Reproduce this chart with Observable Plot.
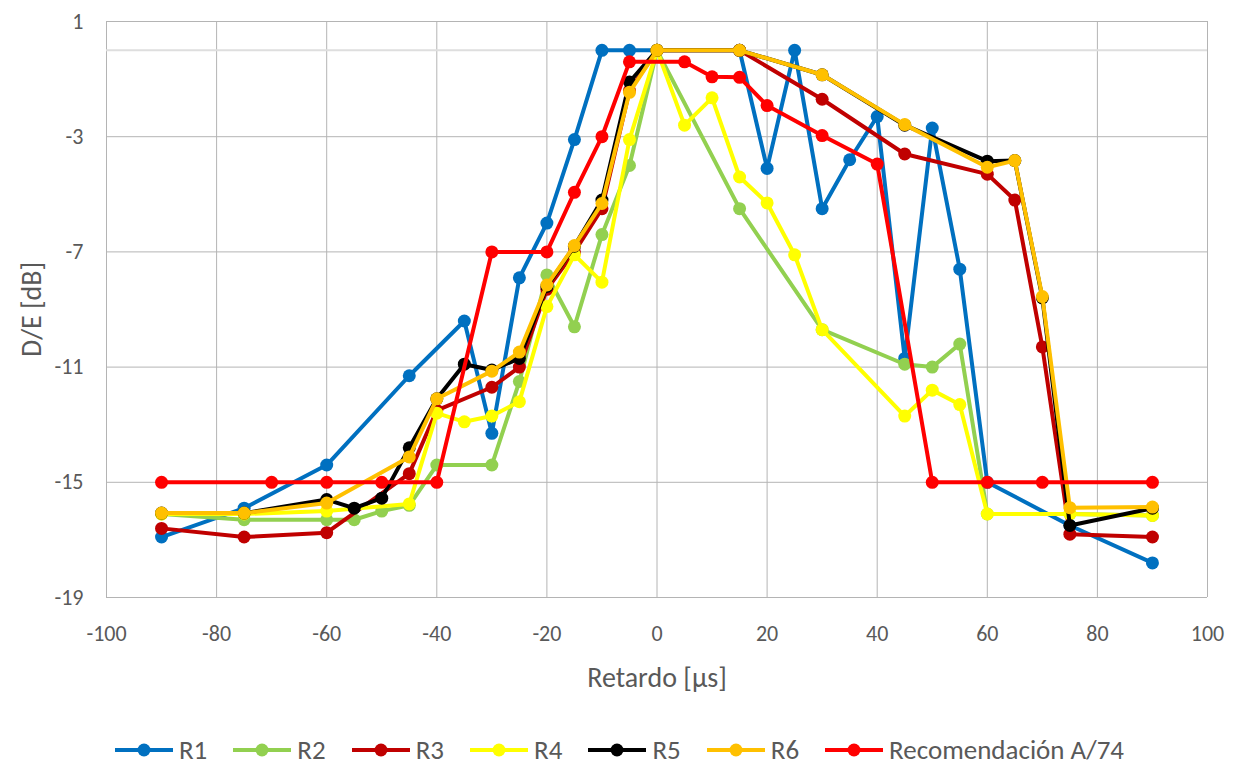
<!DOCTYPE html>
<html>
<head>
<meta charset="utf-8">
<script src="https://cdn.jsdelivr.net/npm/d3@7"></script>
<script src="https://cdn.jsdelivr.net/npm/@observablehq/plot@0.6"></script>
<style>
  body { margin: 0; background: #fff; font-family: Carlito, "Liberation Sans", sans-serif; }
  #legend { display: flex; justify-content: center; align-items: center; margin-top: 36px; color: #595959; font-size: 27px; line-height: 28px; }
  .item { display: flex; align-items: center; margin: 0 13px; }
  .item svg { margin-right: 6px; }
</style>
</head>
<body>
<div id="chart"></div>
<div id="legend"></div>
<script>
// Series names and colours
const seriesNames = ["R1", "R2", "R3", "R4", "R5", "R6", "Recomendación A/74"];
const seriesColors = ["#0070C0", "#92D050", "#C00000", "#FFFF00", "#000000", "#FFC000", "#FF0000"];

// Axis ticks and titles
const xTicks = [-100, -80, -60, -40, -20, 0, 20, 40, 60, 80, 100];
const yTicks = [-19, -15, -11, -7, -3, 1];
const xTitle = "Retardo [µs]";
const yTitle = "D/E [dB]";

// Delay [µs] and D/E [dB] per series
const r1Delay = [-90, -75, -60, -45, -35, -30, -25, -20, -15, -10, -5, 0, 15, 20, 25, 30, 35, 40, 45, 50, 55, 60, 75, 90];
const r1Level = [-16.9, -15.9, -14.4, -11.3, -9.4, -13.3, -7.9, -6.0, -3.1, 0, 0, 0, 0, -4.1, 0, -5.5, -3.8, -2.3, -10.7, -2.7, -7.6, -15, -16.5, -17.8];

const r2Delay = [-90, -75, -60, -55, -50, -45, -40, -30, -25, -20, -15, -10, -5, 0, 15, 30, 45, 50, 55, 60, 75, 90];
const r2Level = [-16.1, -16.3, -16.3, -16.3, -16.0, -15.8, -14.4, -14.4, -11.5, -7.8, -9.6, -6.4, -4.0, 0, -5.5, -9.7, -10.9, -11.0, -10.2, -16.1, -16.1, -16.15];

const r3Delay = [-90, -75, -60, -45, -40, -30, -25, -20, -15, -10, -5, 0, 15, 30, 45, 60, 65, 70, 75, 90];
const r3Level = [-16.6, -16.9, -16.75, -14.7, -12.5, -11.7, -11.0, -8.3, -7.0, -5.5, -1.4, 0, 0, -1.7, -3.6, -4.3, -5.2, -10.3, -16.8, -16.9];

const r4Delay = [-90, -75, -60, -45, -40, -35, -30, -25, -20, -15, -10, -5, 0, 5, 10, 15, 20, 25, 30, 45, 50, 55, 60, 75, 90];
const r4Level = [-16.1, -16.1, -16.0, -15.75, -12.6, -12.9, -12.7, -12.2, -8.9, -7.1, -8.05, -3.1, 0, -2.6, -1.65, -4.4, -5.3, -7.1, -9.7, -12.7, -11.8, -12.3, -16.1, -16.1, -16.15];

const r5Delay = [-90, -75, -60, -55, -50, -45, -40, -35, -30, -25, -20, -15, -10, -5, 0, 15, 30, 45, 60, 65, 70, 75, 90];
const r5Level = [-16.07, -16.07, -15.6, -15.9, -15.55, -13.8, -12.1, -10.9, -11.1, -10.7, -8.2, -6.8, -5.2, -1.1, 0, 0, -0.85, -2.6, -3.85, -3.83, -8.6, -16.5, -15.9];

const r6Delay = [-90, -75, -60, -45, -40, -30, -25, -20, -15, -10, -5, 0, 15, 30, 45, 60, 65, 70, 75, 90];
const r6Level = [-16.07, -16.07, -15.72, -14.12, -12.1, -11.14, -10.48, -8.15, -6.78, -5.32, -1.46, 0, 0, -0.85, -2.58, -4.06, -3.83, -8.55, -15.88, -15.86];

const recDelay = [-90, -70, -60, -50, -40, -30, -20, -15, -10, -5, 5, 10, 15, 20, 30, 40, 50, 60, 70, 90];
const recLevel = [-15, -15, -15, -15, -15, -7, -7, -4.93, -3, -0.4, -0.4, -0.92, -0.94, -1.92, -2.96, -3.95, -15, -15, -15, -15];

const delays = [r1Delay, r2Delay, r3Delay, r4Delay, r5Delay, r6Delay, recDelay];
const levels = [r1Level, r2Level, r3Level, r4Level, r5Level, r6Level, recLevel];

// Long table: one row per measured point
const rows = seriesNames.flatMap((name, i) =>
  delays[i].map((d, j) => ({series: name, delay: d, level: levels[i][j]}))
);

const seriesMarks = seriesNames.flatMap((name, i) => {
  const data = rows.filter(r => r.series === name);
  return [
    Plot.line(data, {x: "delay", y: "level", stroke: seriesColors[i], strokeWidth: 4, strokeLinejoin: "round"}),
    Plot.dot(data, {x: "delay", y: "level", r: 6.5, fill: seriesColors[i], stroke: "none"})
  ];
});

const textColor = "#595959";

const chart = Plot.plot({
  width: 1239,
  height: 700,
  marginLeft: 106,
  marginRight: 32,
  marginTop: 21,
  marginBottom: 103,
  style: {fontSize: "22px", color: textColor, fontFamily: 'Carlito, "Liberation Sans", sans-serif', background: "#fff"},
  x: {domain: [-100, 100]},
  y: {domain: [-19, 1]},
  marks: [
    Plot.gridX(xTicks, {stroke: "#b4b4b4", strokeOpacity: 1}),
    Plot.gridY(yTicks, {stroke: "#b4b4b4", strokeOpacity: 1}),
    Plot.ruleY([0], {stroke: "#dedede", strokeWidth: 2}),
    Plot.axisX(xTicks, {tickSize: 0, tickPadding: 28, tickFormat: d => String(d), label: null}),
    Plot.axisY(yTicks, {tickSize: 0, tickPadding: 23, tickFormat: d => String(d), label: null}),
    Plot.text([xTitle], {frameAnchor: "bottom", dy: 81, lineAnchor: "middle", textAnchor: "middle", fontSize: 28, fill: textColor}),
    Plot.text([yTitle], {frameAnchor: "left", dx: -74, rotate: -90, lineAnchor: "middle", textAnchor: "middle", fontSize: 28, fill: textColor}),
    ...seriesMarks
  ]
});
document.getElementById("chart").appendChild(chart);

// Legend below the chart
const legend = d3.select("#legend");
seriesNames.forEach((name, i) => {
  const item = legend.append("div").attr("class", "item");
  const svg = item.append("svg").attr("width", 58).attr("height", 16);
  svg.append("line").attr("x1", 0).attr("x2", 58).attr("y1", 8).attr("y2", 8)
    .attr("stroke", seriesColors[i]).attr("stroke-width", 4);
  svg.append("circle").attr("cx", 29).attr("cy", 8).attr("r", 6.5).attr("fill", seriesColors[i]);
  item.append("span").text(name);
});
</script>
</body>
</html>
